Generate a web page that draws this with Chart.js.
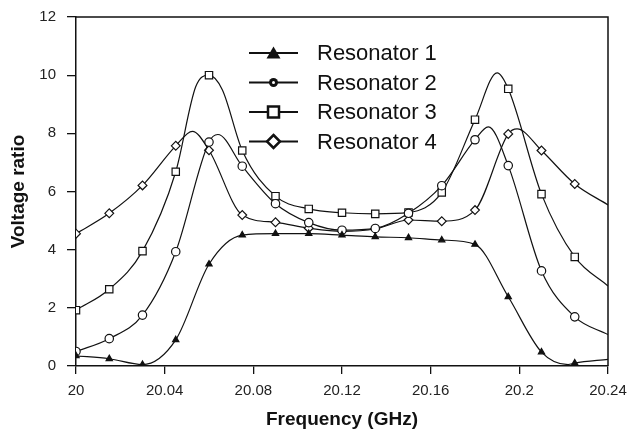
<!DOCTYPE html>
<html lang="en">
<head>
    <meta charset="UTF-8">
    <title>Voltage ratio vs frequency</title>
    <script src="https://cdn.jsdelivr.net/npm/chart.js"></script>
    <style>
        body {
            margin: 0;
            background: #fff;
        }
        canvas {
            display: block;
        }
    </style>
</head>
<body>
    <canvas id="resChart" width="628" height="436"></canvas>

    <script>
        // marker frequencies (GHz), shared by all four resonators
        const markerFreq = [20, 20.015, 20.03, 20.045, 20.06, 20.075, 20.09, 20.105,
                            20.12, 20.135, 20.15, 20.165, 20.18, 20.195, 20.21, 20.225];

        const res1 = [0.35, 0.25, 0.05, 0.9, 3.5, 4.5, 4.55, 4.55, 4.5, 4.44, 4.41, 4.33, 4.18, 2.38, 0.48, 0.1];
        const res2 = [0.5, 0.94, 1.75, 3.93, 7.7, 6.87, 5.58, 4.93, 4.67, 4.73, 5.25, 6.2, 7.78, 6.89, 3.27, 1.69];
        const res3 = [1.92, 2.64, 3.95, 6.68, 10.0, 7.41, 5.84, 5.4, 5.27, 5.23, 5.28, 5.97, 8.47, 9.53, 5.91, 3.75];
        const res4 = [4.55, 5.25, 6.21, 7.57, 7.42, 5.19, 4.94, 4.74, 4.63, 4.71, 5.02, 4.98, 5.36, 7.98, 7.41, 6.26];

        // extra points of the drawn curves (peaks, dips, right end) with no marker
        const res1CurveX = [20.222, 20.24];
        const res1CurveY = [0.05, 0.23];
        const res2CurveX = [20.064, 20.186, 20.24];
        const res2CurveY = [7.96, 8.22, 1.08];
        const res3CurveX = [20.054, 20.066, 20.19, 20.24];
        const res3CurveY = [9.6, 9.5, 10.08, 2.75];
        const res4CurveX = [20.0525, 20.199, 20.24];
        const res4CurveY = [8.07, 8.15, 5.54];

        const seriesNames = ['Resonator 1', 'Resonator 2', 'Resonator 3', 'Resonator 4'];

        const xMin = 20, xMax = 20.24, xStep = 0.04;
        const yMin = 0, yMax = 12, yStep = 2;

        function buildPoints(ys, cx, cy) {
            const pts = markerFreq.map((x, i) => ({ x: x, y: ys[i], m: true }));
            cx.forEach((x, i) => pts.push({ x: x, y: cy[i], m: false }));
            pts.sort((a, b) => a.x - b.x);
            return pts;
        }

        const styles = [
            { pointStyle: 'triangle', radius: 3.6, fill: '#111' },
            { pointStyle: 'circle', radius: 4.2, fill: '#fff' },
            { pointStyle: 'rect', radius: 5.2, fill: '#fff' },
            { pointStyle: 'rectRot', radius: 4.4, fill: '#fff' }
        ];

        function makeDataset(i, pts) {
            const s = styles[i];
            return {
                label: seriesNames[i],
                data: pts,
                borderColor: '#111',
                borderWidth: 1.2,
                cubicInterpolationMode: 'monotone',
                pointStyle: s.pointStyle,
                pointRadius: c => (c.raw && c.raw.m ? s.radius : 0),
                pointBackgroundColor: s.fill,
                pointBorderColor: '#111',
                pointBorderWidth: 1.2,
                pointHoverRadius: 0
            };
        }

        const datasets = [
            makeDataset(0, buildPoints(res1, res1CurveX, res1CurveY)),
            makeDataset(1, buildPoints(res2, res2CurveX, res2CurveY)),
            makeDataset(2, buildPoints(res3, res3CurveX, res3CurveY)),
            makeDataset(3, buildPoints(res4, res4CurveX, res4CurveY))
        ];

        // legend with line + marker drawn inside the plot, and top/right frame
        const framePlugin = {
            id: 'frameAndLegend',
            afterDraw(chart) {
                const c = chart.ctx;
                const a = chart.chartArea;
                c.save();
                c.strokeStyle = '#111';
                c.lineWidth = 1.5;
                c.beginPath();
                c.moveTo(a.left, a.top);
                c.lineTo(a.right, a.top);
                c.lineTo(a.right, a.bottom);
                c.stroke();

                const rows = [53, 82.5, 112, 141.5];
                const x0 = 249, x1 = 298, xm = 273.5;
                c.font = '22px Arial, "Liberation Sans", sans-serif';
                c.textBaseline = 'middle';
                c.fillStyle = '#111';
                rows.forEach((y, i) => {
                    c.lineWidth = 2;
                    c.strokeStyle = '#111';
                    c.beginPath();
                    c.moveTo(x0, y);
                    c.lineTo(x1, y);
                    c.stroke();
                    c.beginPath();
                    if (i === 0) {
                        c.moveTo(xm, y - 6.5);
                        c.lineTo(xm + 7, y + 5.5);
                        c.lineTo(xm - 7, y + 5.5);
                        c.closePath();
                        c.fillStyle = '#111';
                        c.fill();
                    } else if (i === 1) {
                        c.arc(xm, y, 4.5, 0, Math.PI * 2);
                        c.fillStyle = '#111';
                        c.fill();
                        c.beginPath();
                        c.arc(xm, y, 1.5, 0, Math.PI * 2);
                        c.fillStyle = '#fff';
                        c.fill();
                    } else if (i === 2) {
                        c.rect(xm - 5.5, y - 5.5, 11, 11);
                        c.fillStyle = '#fff';
                        c.fill();
                        c.lineWidth = 2.5;
                        c.stroke();
                    } else {
                        c.moveTo(xm, y - 6.5);
                        c.lineTo(xm + 6.5, y);
                        c.lineTo(xm, y + 6.5);
                        c.lineTo(xm - 6.5, y);
                        c.closePath();
                        c.fillStyle = '#fff';
                        c.fill();
                        c.lineWidth = 2.5;
                        c.stroke();
                    }
                    c.fillStyle = '#111';
                    c.fillText(seriesNames[i], 317, y + 1);
                });
                c.restore();
            }
        };

        const tickFont = { family: 'Arial, "Liberation Sans", sans-serif', size: 15 };
        const titleFont = { family: 'Arial, "Liberation Sans", sans-serif', size: 19, weight: 'bold' };

        const ctx = document.getElementById('resChart').getContext('2d');
        const chart = new Chart(ctx, {
            type: 'line',
            data: { datasets: datasets },
            plugins: [framePlugin],
            options: {
                responsive: false,
                animation: false,
                layout: { padding: { left: 0, right: 20, top: 17, bottom: 0 } },
                plugins: {
                    legend: { display: false },
                    tooltip: { enabled: false }
                },
                scales: {
                    x: {
                        type: 'linear',
                        min: xMin,
                        max: xMax,
                        afterFit: s => {
                            s.height = 70;
                            s.paddingLeft = 0;
                            s.paddingRight = 0;
                        },
                        ticks: {
                            stepSize: xStep,
                            color: '#222',
                            font: tickFont,
                            padding: 8,
                            maxRotation: 0,
                            callback: v => String(+v.toFixed(2))
                        },
                        grid: { drawOnChartArea: false, tickLength: 8, color: '#111', lineWidth: 1.3 },
                        border: { display: true, color: '#111', width: 1.5 },
                        title: {
                            display: true,
                            text: 'Frequency (GHz)',
                            color: '#111',
                            font: titleFont,
                            padding: { top: 0, bottom: 5 }
                        }
                    },
                    y: {
                        min: yMin,
                        max: yMax,
                        afterFit: s => {
                            s.width = 76;
                            s.paddingTop = 0;
                            s.paddingBottom = 0;
                        },
                        ticks: {
                            stepSize: yStep,
                            color: '#222',
                            font: tickFont,
                            padding: 11
                        },
                        grid: { drawOnChartArea: false, tickLength: 9, color: '#111', lineWidth: 1.3 },
                        border: { display: true, color: '#111', width: 1.5 },
                        title: {
                            display: true,
                            text: 'Voltage ratio',
                            color: '#111',
                            font: titleFont,
                            padding: { top: 7, bottom: 0 }
                        }
                    }
                }
            }
        });
    </script>
</body>
</html>
